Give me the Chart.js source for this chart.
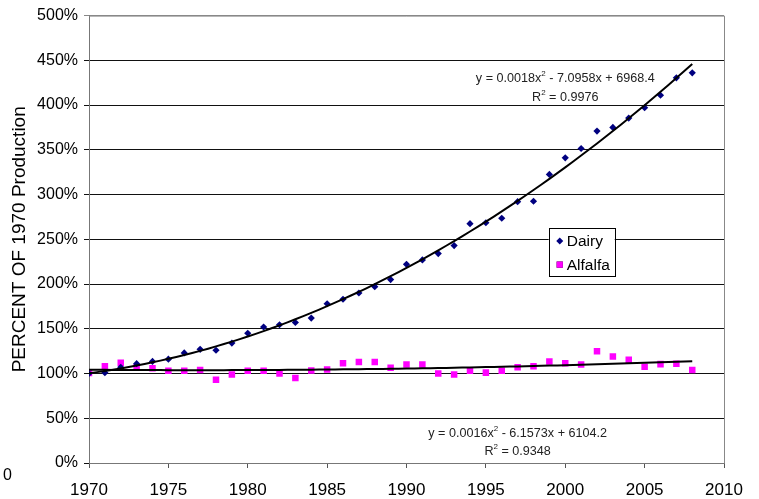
<!DOCTYPE html>
<html>
<head>
<meta charset="utf-8">
<script src="https://cdn.jsdelivr.net/npm/chart.js@4.4.1/dist/chart.umd.min.js"></script>
<style>
html, body { margin: 0; padding: 0; background: #fff; }
</style>
</head>
<body>
<canvas id="chart" width="759" height="499"></canvas>
<script>
// values, percent of 1970 production
const years = [1970, 1971, 1972, 1973, 1974, 1975, 1976, 1977, 1978, 1979,
    1980, 1981, 1982, 1983, 1984, 1985, 1986, 1987, 1988, 1989,
    1990, 1991, 1992, 1993, 1994, 1995, 1996, 1997, 1998, 1999,
    2000, 2001, 2002, 2003, 2004, 2005, 2006, 2007, 2008];
const dairy = [100, 101, 107, 111, 113.5, 116, 123, 127, 126, 134,
    145, 152, 154.5, 157, 162, 178, 183, 190, 197, 205,
    222, 227, 234, 243, 267.5, 268.5, 273.5, 292, 292.5, 322.5,
    341, 351.5, 371, 375, 385.5, 397, 411, 430.5, 436];
const alfalfa = [100.5, 108, 112, 107, 106, 103, 103, 104, 93, 99,
    103, 103, 100, 95, 103.5, 104.5, 111.5, 113, 113, 106.5,
    110, 110, 100, 99, 103, 101, 103, 107, 108, 113.5,
    111.5, 110, 125, 119, 115.5, 107.5, 110.5, 111, 104];
const seriesNames = ['Dairy', 'Alfalfa'];
const yTitle = 'PERCENT OF 1970 Production';
const dairyEq = [['y = 0.0018x', false], ['2', true], [' - 7.0958x + 6968.4', false]];
const dairyR2 = [['R', false], ['2', true], [' = 0.9976', false]];
const alfalfaEq = [['y = 0.0016x', false], ['2', true], [' - 6.1573x + 6104.2', false]];
const alfalfaR2 = [['R', false], ['2', true], [' = 0.9348', false]];

const FONT = "'Liberation Sans', Arial, sans-serif";

// least squares quadratic, x shifted to 1970 to keep numbers small
function quadFit(xs, ys) {
    let s = [0, 0, 0, 0, 0], t = [0, 0, 0];
    xs.forEach((x0, i) => {
        const x = x0 - 1970;
        let p = 1;
        for (let k = 0; k < 5; k++) { s[k] += p; p *= x; }
        t[0] += ys[i]; t[1] += ys[i] * x; t[2] += ys[i] * x * x;
    });
    const m = [[s[0], s[1], s[2], t[0]], [s[1], s[2], s[3], t[1]], [s[2], s[3], s[4], t[2]]];
    for (let c = 0; c < 3; c++) {
        for (let r = c + 1; r < 3; r++) {
            const f = m[r][c] / m[c][c];
            for (let k = c; k < 4; k++) m[r][k] -= f * m[c][k];
        }
    }
    const a = [0, 0, 0];
    for (let r = 2; r >= 0; r--) {
        let v = m[r][3];
        for (let k = r + 1; k < 3; k++) v -= m[r][k] * a[k];
        a[r] = v / m[r][r];
    }
    return x => a[0] + a[1] * (x - 1970) + a[2] * (x - 1970) * (x - 1970);
}

function trendPoints(xs, ys) {
    const f = quadFit(xs, ys);
    const pts = [];
    const first = xs[0], last = xs[xs.length - 1];
    for (let x = first; x <= last + 0.001; x += 0.5) pts.push({x: x, y: f(x)});
    return pts;
}

function drawSup(ctx, parts, cx, cy, size) {
    const supSize = Math.round(size * 0.62);
    let total = 0;
    parts.forEach(p => {
        ctx.font = (p[1] ? supSize : size) + 'px ' + FONT;
        total += ctx.measureText(p[0]).width;
    });
    let x = cx - total / 2;
    ctx.textAlign = 'left';
    ctx.textBaseline = 'middle';
    parts.forEach(p => {
        ctx.font = (p[1] ? supSize : size) + 'px ' + FONT;
        ctx.fillText(p[0], x, p[1] ? cy - size * 0.38 : cy);
        x += ctx.measureText(p[0]).width;
    });
}

const extras = {
    id: 'extras',
    afterDraw(chart) {
        const ctx = chart.ctx;
        const a = chart.chartArea;
        const xs = chart.scales.x, ys = chart.scales.y;
        ctx.save();
        // plot border top / right
        ctx.strokeStyle = '#888';
        ctx.lineWidth = 1;
        ctx.beginPath();
        ctx.moveTo(a.left, a.top + 0.5);
        ctx.lineTo(a.right + 0.5, a.top + 0.5);
        ctx.lineTo(a.right + 0.5, a.bottom);
        ctx.stroke();

        ctx.fillStyle = '#222';
        drawSup(ctx, dairyEq, xs.getPixelForValue(2000), ys.getPixelForValue(430), 12.6);
        drawSup(ctx, dairyR2, xs.getPixelForValue(2000), ys.getPixelForValue(408), 12.6);
        drawSup(ctx, alfalfaEq, xs.getPixelForValue(1997), ys.getPixelForValue(33), 12.6);
        drawSup(ctx, alfalfaR2, xs.getPixelForValue(1997), ys.getPixelForValue(12.5), 12.6);

        // legend box
        const lx = a.left + (a.right - a.left) * 0.724;
        const ly = a.top + (a.bottom - a.top) * 0.475;
        const lw = 66, lh = 48;
        ctx.fillStyle = '#fff';
        ctx.fillRect(lx, ly, lw, lh);
        ctx.strokeStyle = '#000';
        ctx.strokeRect(Math.round(lx) + 0.5, Math.round(ly) + 0.5, lw, lh);
        const metas = [chart.getDatasetMeta(0), chart.getDatasetMeta(1)];
        metas.forEach((meta, i) => {
            const ds = chart.data.datasets[meta.index];
            const cy = ly + 13 + i * 23.5;
            Chart.helpers.drawPoint(ctx, {
                pointStyle: ds.pointStyle, radius: i === 0 ? 3.5 : 4.4, borderWidth: 0
            }, lx + 11, cy);
            ctx.fillStyle = ds.backgroundColor;
            ctx.fill();
            ctx.fillStyle = '#000';
            ctx.font = '15.5px ' + FONT;
            ctx.textAlign = 'left';
            ctx.textBaseline = 'middle';
            ctx.fillText(seriesNames[i], lx + 18, cy + 1);
        });

        // stray label at the bottom left of the original
        ctx.font = '16px ' + FONT;
        ctx.fillStyle = '#000';
        ctx.textAlign = 'left';
        ctx.textBaseline = 'middle';
        ctx.fillText('0', 3, 476);
        ctx.restore();
    }
};

const ctx = document.getElementById('chart').getContext('2d');
new Chart(ctx, {
    type: 'scatter',
    data: {
        datasets: [{
            label: seriesNames[0],
            data: years.map((y, i) => ({x: y, y: dairy[i]})),
            pointStyle: 'rectRot',
            pointRadius: 3.6,
            borderWidth: 0,
            backgroundColor: '#000080',
            order: 1
        }, {
            label: seriesNames[1],
            data: years.map((y, i) => ({x: y, y: alfalfa[i]})),
            pointStyle: 'rect',
            pointRadius: 4.6,
            borderWidth: 0,
            backgroundColor: '#ff00ff',
            order: 1
        }, {
            label: 'Dairy trend',
            type: 'line',
            data: trendPoints(years, dairy),
            borderColor: '#000',
            borderWidth: 2,
            pointRadius: 0,
            tension: 0,
            order: 0
        }, {
            label: 'Alfalfa trend',
            type: 'line',
            data: trendPoints(years, alfalfa),
            borderColor: '#000',
            borderWidth: 2,
            pointRadius: 0,
            tension: 0,
            order: 0
        }]
    },
    options: {
        responsive: false,
        animation: false,
        devicePixelRatio: 1,
        layout: {padding: {left: 0, top: 14, right: 35, bottom: 0}},
        plugins: {legend: {display: false}, tooltip: {enabled: false}},
        scales: {
            x: {
                type: 'linear',
                min: 1970,
                max: 2010,
                grid: {drawOnChartArea: false, drawTicks: true, tickLength: 5, color: '#555'},
                border: {color: '#777'},
                ticks: {
                    stepSize: 5,
                    padding: 12,
                    color: '#000',
                    maxRotation: 0,
                    font: {family: FONT, size: 17},
                    callback: v => String(v)
                },
                afterFit: s => { s.height = 36; }
            },
            y: {
                min: 0,
                max: 500,
                grid: {color: ctx => ctx.tick && ctx.tick.value === 500 ? '#888' : '#111', tickLength: 5},
                border: {color: '#777'},
                ticks: {
                    stepSize: 50,
                    padding: 6,
                    color: '#000',
                    font: {family: FONT, size: 16},
                    callback: v => v + '%'
                },
                title: {
                    display: true,
                    text: yTitle,
                    color: '#000',
                    font: {family: FONT, size: 19},
                    padding: {top: 8, bottom: 0}
                },
                afterFit: s => { s.width = 89; }
            }
        }
    },
    plugins: [extras]
});
</script>
</body>
</html>
